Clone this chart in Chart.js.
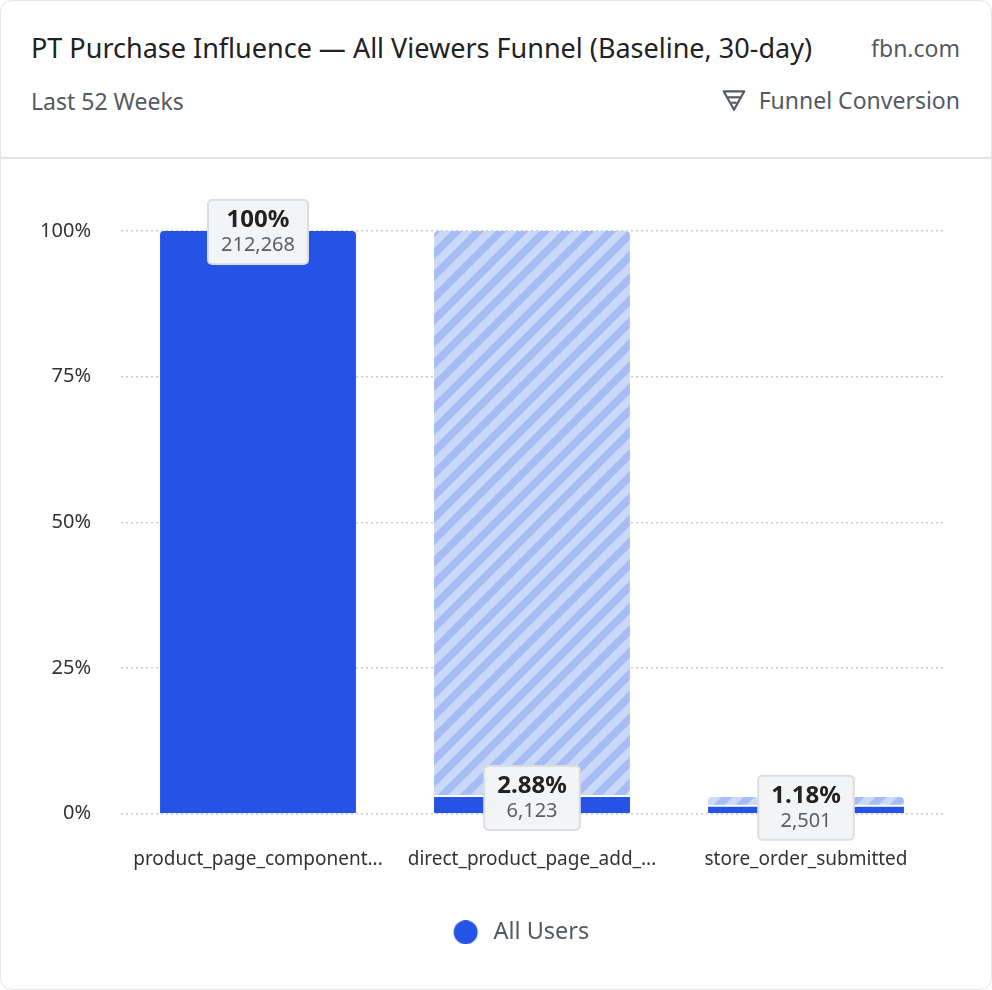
<!DOCTYPE html>
<html>
<head>
<meta charset="utf-8">
<script src="https://cdn.jsdelivr.net/npm/chart.js@4.4.1/dist/chart.umd.min.js"></script>
<style>
  html, body { margin: 0; padding: 0; background: #fff; }
  body { width: 992px; height: 990px; overflow: hidden; font-family: "Noto Sans", sans-serif; }
  .card { position: relative; width: 990px; height: 988px; border: 1px solid #e6e6ea; border-radius: 12px; background: #fff; }
  .header { position: absolute; left: 0; top: 0; width: 990px; height: 156px; border-bottom: 2px solid #e3e3e6; }
  .title { position: absolute; left: 30px; top: 28px; font-size: 27px; color: #222; }
  .site { position: absolute; right: 31px; top: 31px; font-size: 23px; color: #555a60; }
  .sub { position: absolute; left: 30px; top: 84px; font-size: 23px; color: #555a60; }
  .kind { position: absolute; right: 31px; top: 83px; font-size: 23px; color: #555a60; display: flex; align-items: center; }
  .kind svg { margin-right: 12px; }
  .chartBox { position: absolute; left: 0; top: 158px; width: 990px; height: 830px; }
</style>
</head>
<body>
<div class="card">
  <div class="header">
    <div class="title">PT Purchase Influence — All Viewers Funnel (Baseline, 30-day)</div>
    <div class="site">fbn.com</div>
    <div class="sub">Last 52 Weeks</div>
    <div class="kind">
      <svg width="26" height="26" viewBox="0 0 24 24" fill="none" stroke="#555a60" stroke-width="2" stroke-linejoin="round">
        <path d="M2.5 4 H21.5 L12 21 Z"/>
        <path d="M6.5 9.5 H17.5"/>
        <path d="M9.5 14.5 H14.5"/>
      </svg>
      Funnel Conversion
    </div>
  </div>
  <div class="chartBox"><canvas id="myChart"></canvas></div>
</div>

<script>
// funnel steps
const steps = ['product_page_component...', 'direct_product_page_add_...', 'store_order_submitted'];
const userCounts = [212268, 6123, 2501];
const conversionPct = [100, 2.88, 1.18];
const yTicks = [0, 25, 50, 75, 100];

// drop-off from the previous step (hatched part)
const dropOff = conversionPct.map((v, i) => i === 0 ? null : +(conversionPct[i - 1] - v).toFixed(2));

const solidBlue = '#2453e6';

// striped pattern for the drop-off bars
function makeStripes() {
    const s = 22;
    const c = document.createElement('canvas');
    c.width = s; c.height = s;
    const g = c.getContext('2d');
    g.fillStyle = '#cbd9f8';
    g.fillRect(0, 0, s, s);
    g.strokeStyle = '#a5bdf4';
    g.lineWidth = s / (2 * Math.SQRT2);
    g.beginPath();
    g.moveTo(-s, s); g.lineTo(s, -s);
    g.moveTo(0, s); g.lineTo(s, 0);
    g.moveTo(0, 2 * s); g.lineTo(2 * s, 0);
    g.stroke();
    return g.createPattern(c, 'repeat');
}

// legend dot, drawn on the left of a wider image so the text sits further away
function legendDot() {
    const c = document.createElement('canvas');
    c.width = 60; c.height = 24;
    const g = c.getContext('2d');
    g.fillStyle = solidBlue;
    g.beginPath();
    g.arc(17.5, 12, 12, 0, Math.PI * 2);
    g.fill();
    return c;
}

// boxes with percent + count on top of each solid bar
const funnelLabels = {
    id: 'funnelLabels',
    afterDatasetsDraw(chart) {
        const ctx = chart.ctx;
        const meta = chart.getDatasetMeta(0);
        meta.data.forEach((bar, i) => {
            const pct = conversionPct[i] + '%';
            const cnt = userCounts[i].toLocaleString('en-US');
            ctx.save();
            ctx.font = 'bold 24px "Noto Sans"';
            const w1 = ctx.measureText(pct).width;
            ctx.font = '20px "Noto Sans"';
            const w2 = ctx.measureText(cnt).width;
            const w = Math.max(w1, w2) + 26;
            const h = 64;
            const x = bar.x - w / 2;
            const y = bar.y - h / 2 + 1;
            ctx.beginPath();
            ctx.roundRect(x, y, w, h, 4);
            ctx.fillStyle = '#f3f4f6';
            ctx.fill();
            ctx.lineWidth = 2;
            ctx.strokeStyle = '#dcdde0';
            ctx.stroke();
            ctx.textAlign = 'center';
            ctx.textBaseline = 'middle';
            ctx.fillStyle = '#222';
            ctx.font = 'bold 24px "Noto Sans"';
            ctx.fillText(pct, bar.x, y + 20);
            ctx.fillStyle = '#5a5e66';
            ctx.font = '20px "Noto Sans"';
            ctx.fillText(cnt, bar.x, y + 45);
            ctx.restore();
        });
    }
};

const ctx = document.getElementById('myChart');
let myChart = new Chart(ctx, {
    type: 'bar',
    data: {
        labels: steps,
        datasets: [{
            label: 'All Users',
            data: conversionPct,
            backgroundColor: solidBlue,
            borderWidth: 0,
            borderRadius: c => c.dataIndex === 0 ? { topLeft: 4, topRight: 4, bottomLeft: 0, bottomRight: 0 } : 0,
            borderSkipped: false,
            barPercentage: 0.715,
            categoryPercentage: 1
        }, {
            label: 'Drop-off',
            data: dropOff,
            backgroundColor: makeStripes(),
            borderColor: '#ffffff',
            borderWidth: { top: 0, left: 0, right: 0, bottom: 2 },
            borderRadius: { topLeft: 4, topRight: 4, bottomLeft: 0, bottomRight: 0 },
            borderSkipped: false,
            barPercentage: 0.715,
            categoryPercentage: 1
        }]
    },
    options: {
        responsive: true,
        maintainAspectRatio: false,
        animation: false,
        layout: { padding: { top: 72, right: 48, bottom: 35, left: 0 } },
        scales: {
            x: {
                stacked: true,
                grid: { display: false },
                border: { display: false },
                ticks: { padding: 26, color: '#333', font: { size: 19, family: 'Noto Sans' }, maxRotation: 0, autoSkip: false }
            },
            y: {
                stacked: true,
                min: 0,
                max: 100,
                afterBuildTicks: axis => { axis.ticks = yTicks.map(v => ({ value: v })); },
                afterFit: axis => { axis.width = 120; },
                grid: { color: '#c9cbd0', lineWidth: 1.5, drawTicks: false },
                border: { display: false, dash: [2, 3] },
                ticks: { padding: 30, color: '#333', font: { size: 20, family: 'Noto Sans' }, callback: v => v + '%' }
            }
        },
        plugins: {
            legend: {
                position: 'bottom',
                fullSize: false,
                labels: {
                    filter: item => item.datasetIndex === 0,
                    usePointStyle: true,
                    pointStyle: legendDot(),
                    boxWidth: 7,
                    boxHeight: 17,
                    padding: 24,
                    color: '#555a60',
                    font: { size: 23.5, family: 'Noto Sans' }
                }
            },
            tooltip: { enabled: false }
        }
    },
    plugins: [funnelLabels]
});
</script>
</body>
</html>
